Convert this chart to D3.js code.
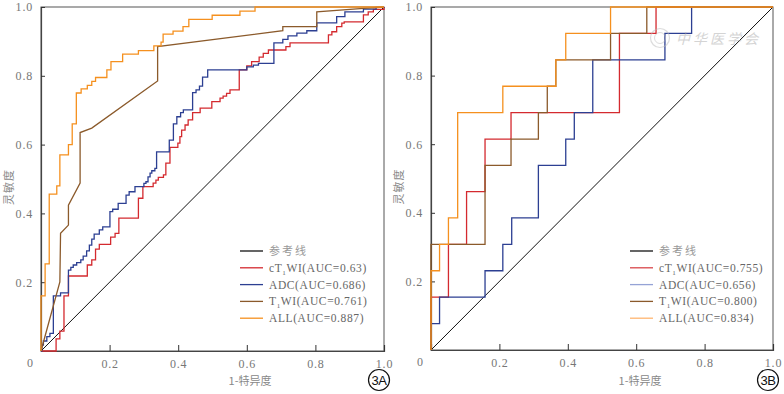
<!DOCTYPE html>
<html>
<head>
<meta charset="utf-8">
<script src="https://cdn.jsdelivr.net/npm/d3@7"></script>
<style>
body { margin: 0; background: #fff; }
text { font-family: "Liberation Serif", "Times New Roman", serif; }
</style>
</head>
<body>
<div id="chart"></div>
<script>
// labels
var legendNames = ["参考线", "cT", "ADC", "T", "ALL"];
var aucA = ["0.63", "0.686", "0.761", "0.887"];
var aucB = ["0.755", "0.656", "0.800", "0.834"];
var tickVals = [0.2, 0.4, 0.6, 0.8, 1.0];

// panel A curves, [1-specificity, sensitivity]
// step curves: each point = x of the rise, sensitivity after the rise
var a_ct1wi = [[0,0],[0.044,0.035],[0.055,0.058],[0.067,0.160],[0.080,0.218],[0.135,0.250],[0.148,0.265],[0.159,0.296],[0.170,0.310],[0.203,0.331],[0.216,0.342],[0.227,0.386],[0.284,0.444],[0.297,0.478],[0.327,0.488],[0.335,0.497],[0.342,0.505],[0.357,0.512],[0.364,0.546],[0.376,0.592],[0.399,0.604],[0.405,0.623],[0.410,0.642],[0.420,0.657],[0.429,0.672],[0.442,0.693],[0.464,0.706],[0.498,0.725],[0.522,0.735],[0.531,0.741],[0.541,0.749],[0.551,0.759],[0.578,0.817],[0.600,0.829],[0.614,0.841],[0.636,0.854],[0.648,0.865],[0.663,0.875],[0.714,0.885],[0.726,0.896],[0.838,0.919],[0.848,0.928],[0.862,0.943],[0.877,0.953],[0.884,0.957],[0.940,0.977],[0.954,0.986],[0.969,0.993],[1,1]];
var a_adc = [[0,0],[0.002,0.017],[0.007,0.029],[0.017,0.042],[0.026,0.051],[0.036,0.160],[0.057,0.169],[0.080,0.235],[0.087,0.243],[0.094,0.250],[0.104,0.257],[0.116,0.265],[0.123,0.276],[0.133,0.291],[0.141,0.308],[0.148,0.325],[0.155,0.340],[0.170,0.352],[0.180,0.361],[0.201,0.405],[0.209,0.412],[0.225,0.429],[0.248,0.453],[0.257,0.463],[0.274,0.478],[0.300,0.487],[0.306,0.492],[0.312,0.506],[0.318,0.517],[0.323,0.524],[0.332,0.531],[0.337,0.579],[0.374,0.613],[0.386,0.660],[0.396,0.681],[0.407,0.693],[0.415,0.701],[0.442,0.751],[0.452,0.759],[0.462,0.770],[0.471,0.796],[0.486,0.817],[0.600,0.826],[0.619,0.831],[0.634,0.836],[0.679,0.896],[0.705,0.906],[0.720,0.916],[0.746,0.924],[0.775,0.931],[0.804,0.954],[0.862,0.972],[0.886,0.986],[0.940,0.994],[0.977,0.999],[1,1]];
// T1WI has tied values, so plain vertices
var a_t1wi = [[0,0],[0.055,0.201],[0.057,0.342],[0.080,0.366],[0.080,0.424],[0.114,0.488],[0.114,0.635],[0.148,0.648],[0.340,0.785],[0.340,0.885],[0.705,0.931],[0.705,0.943],[0.804,0.943],[0.804,0.986],[0.940,0.996],[1,1]];
var a_all = [[0,0],[0,0.160],[0.012,0.253],[0.024,0.456],[0.046,0.480],[0.055,0.570],[0.080,0.600],[0.091,0.660],[0.103,0.750],[0.117,0.762],[0.135,0.772],[0.148,0.784],[0.159,0.795],[0.192,0.817],[0.204,0.841],[0.238,0.863],[0.284,0.873],[0.329,0.887],[0.350,0.898],[0.356,0.921],[0.385,0.930],[0.414,0.943],[0.431,0.964],[0.499,0.976],[0.580,0.988],[0.624,1],[1,1]];

// panel B curves
var b_ct1wi = [[0,0],[0,0.154],[0.051,0.308],[0.104,0.462],[0.158,0.615],[0.234,0.692],[0.551,0.923],[0.658,1],[1,1]];
var b_adc = [[0,0],[0,0.077],[0.025,0.154],[0.158,0.231],[0.210,0.308],[0.236,0.385],[0.314,0.538],[0.394,0.615],[0.419,0.692],[0.473,0.846],[0.684,0.923],[0.762,1],[1,1]];
var b_t1wi = [[0,0],[0,0.308],[0.158,0.538],[0.234,0.615],[0.314,0.692],[0.340,0.769],[0.365,0.846],[0.525,0.923],[0.631,1],[1,1]];
var b_all = [[0,0],[0,0.231],[0.025,0.308],[0.051,0.385],[0.078,0.692],[0.210,0.769],[0.365,0.846],[0.394,0.923],[0.525,1],[1,1]];

var colors = ["#111", "#d42a2f", "#2c3f92", "#8b5a2b", "#f5901e"];

var svg = d3.select("#chart").append("svg")
  .attr("width", 784).attr("height", 394);

function drawPanel(p) {
  var x = d3.scaleLinear().domain([0, 1]).range([p.left, p.right]);
  var y = d3.scaleLinear().domain([0, 1]).range([p.bottom, p.top]);
  var g = svg.append("g");

  // frame
  g.append("rect")
    .attr("x", p.left).attr("y", p.top)
    .attr("width", p.right - p.left).attr("height", p.bottom - p.top)
    .attr("fill", "none").attr("stroke", "#555").attr("stroke-width", 1);

  var xAxis = g.append("g")
    .attr("transform", `translate(0,${p.bottom})`)
    .call(d3.axisBottom(x).tickValues(tickVals).tickSize(-6).tickPadding(8).tickFormat(d3.format(".1f")));
  var yAxis = g.append("g")
    .attr("transform", `translate(${p.left},0)`)
    .call(d3.axisLeft(y).tickValues(tickVals).tickSize(-4).tickPadding(8).tickFormat(d3.format(".1f")));
  [xAxis, yAxis].forEach(function(a) {
    a.select(".domain").attr("stroke", "#444").attr("stroke-width", 1.2);
    a.selectAll(".tick line").attr("stroke", "#333");
    a.selectAll(".tick text").attr("fill", "#777").style("font-size", "12px")
      .style("font-family", "'Liberation Serif', serif").attr("letter-spacing", 0.8);
  });
  yAxis.selectAll(".tick text").attr("dy", "0.32em");

  g.append("text").attr("x", p.left - 11).attr("y", p.bottom + 16)
    .attr("text-anchor", "middle").attr("fill", "#777").style("font-size", "12px").text("0");

  // axis titles
  g.append("text")
    .attr("transform", `translate(${p.left - 28},${(p.top + p.bottom) / 2 + 8}) rotate(-90)`)
    .attr("text-anchor", "middle").attr("fill", "#888").attr("letter-spacing", 1)
    .style("font-family", "'Noto Sans CJK SC', sans-serif").style("font-size", "11px")
    .text("灵敏度");
  g.append("text")
    .attr("x", p.xTitle).attr("y", 385)
    .attr("text-anchor", "middle").attr("fill", "#888")
    .style("font-family", "'Noto Sans CJK SC', sans-serif").style("font-size", "11px")
    .text("1-特异度");

  // reference line
  var line = d3.line().x(function(d) { return x(d[0]); }).y(function(d) { return y(d[1]); });
  g.append("path").datum([[0, 0], [1, 1]])
    .attr("d", line).attr("fill", "none").attr("stroke", "#111").attr("stroke-width", 1);

  var stepLine = d3.line().x(function(d) { return x(d[0]); }).y(function(d) { return y(d[1]); })
    .curve(d3.curveStepAfter);

  p.series.forEach(function(s, i) {
    g.append("path").datum(s.data)
      .attr("d", s.step ? stepLine : line)
      .attr("fill", "none")
      .attr("stroke", colors[i + 1])
      .attr("stroke-width", 1.3);
  });

  // legend
  var lg = g.append("g").attr("transform", `translate(${p.legX},251)`);
  var rows = lg.selectAll("g").data(legendNames).enter().append("g")
    .attr("transform", function(d, i) { return `translate(0,${i * 16.8})`; });
  rows.append("line").attr("x1", 0).attr("x2", 23).attr("y1", 0).attr("y2", 0)
    .attr("stroke", function(d, i) { return p.legColors[i]; }).attr("stroke-width", 1.3);
  rows.each(function(d, i) {
    var t = d3.select(this).append("text").attr("x", 29).attr("y", 4)
      .attr("fill", i === 0 ? "#999" : "#666").attr("letter-spacing", 0.6)
      .style("font-size", "11.5px");
    if (i === 0) {
      t.style("font-family", "'Noto Sans CJK SC', sans-serif").style("font-size", "11px")
        .attr("letter-spacing", 2).text(d);
      return;
    }
    t.append("tspan").text(d);
    if (d === "cT" || d === "T") {
      t.append("tspan").attr("dy", 3).style("font-size", "7px").text("1");
      t.append("tspan").attr("dy", -3).text("WI");
    }
    t.append("tspan").text("(AUC=" + p.auc[i - 1] + ")");
  });

  // panel tag
  g.append("circle").attr("cx", p.right - 5).attr("cy", 380).attr("r", 10.5)
    .attr("fill", "none").attr("stroke", "#111").attr("stroke-width", 1.2);
  g.append("text").attr("x", p.right - 5).attr("y", 385)
    .attr("text-anchor", "middle").attr("fill", "#111")
    .style("font-family", "'Liberation Sans', Arial, sans-serif").style("font-size", "13px")
    .attr("letter-spacing", -0.5).text(p.tag);
}

drawPanel({
  left: 41, right: 384, top: 7, bottom: 351, xTitle: 250, legX: 240, tag: "3A", auc: aucA,
  legColors: ["#111", "#d42a2f", "#2c3f92", "#8b5a2b", "#f5901e"],
  series: [{ data: a_ct1wi, step: true }, { data: a_adc, step: true }, { data: a_t1wi, step: false }, { data: a_all, step: true }]
});
drawPanel({
  left: 431, right: 773, top: 7, bottom: 350, xTitle: 640, legX: 630, tag: "3B", auc: aucB,
  legColors: ["#111", "#d8464a", "#95a3d6", "#8b5a2b", "#ffb570"],
  series: [{ data: b_ct1wi, step: true }, { data: b_adc, step: true }, { data: b_t1wi, step: true }, { data: b_all, step: true }]
});

// watermark
var wm = svg.append("g").attr("opacity", 0.5);
wm.append("circle").attr("cx", 660).attr("cy", 38).attr("r", 9.5)
  .attr("fill", "none").attr("stroke", "#bbb").attr("stroke-width", 1.2);
wm.append("circle").attr("cx", 660).attr("cy", 38).attr("r", 5.5)
  .attr("fill", "none").attr("stroke", "#bbb").attr("stroke-width", 1);
wm.append("text").attr("x", 676).attr("y", 44)
  .attr("fill", "#aaa").attr("letter-spacing", 3)
  .style("font-family", "'Noto Sans CJK SC', sans-serif").style("font-size", "14px").style("font-style", "italic")
  .text("中华医学会");
</script>
</body>
</html>
